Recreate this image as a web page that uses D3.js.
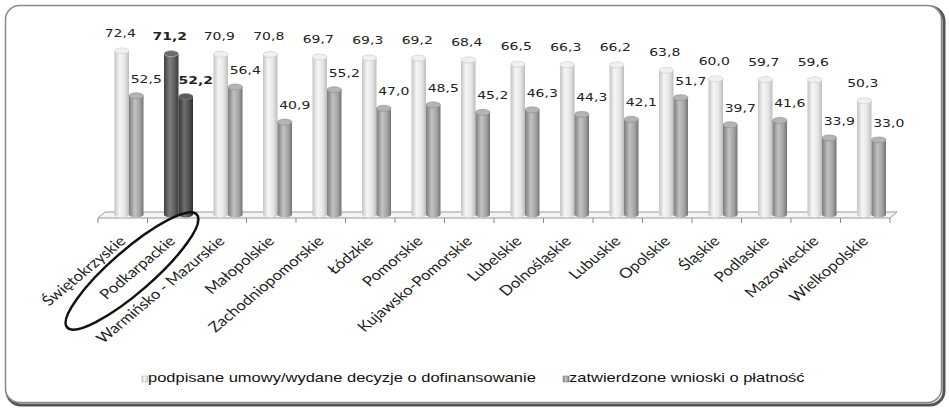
<!DOCTYPE html>
<html>
<head>
<meta charset="utf-8">
<script src="https://cdn.jsdelivr.net/npm/d3@7"></script>
<style>
  body { margin: 0; background: #fff; }
  svg { display: block; }
</style>
</head>
<body>
<script>
// regions and the two series (percent)
var regions = ["Świętokrzyskie", "Podkarpackie", "Warmińsko - Mazurskie", "Małopolskie",
  "Zachodniopomorskie", "Łódzkie", "Pomorskie", "Kujawsko-Pomorskie", "Lubelskie",
  "Dolnośląskie", "Lubuskie", "Opolskie", "Śląskie", "Podlaskie", "Mazowieckie", "Wielkopolskie"];
var podpisane = [72.4, 71.2, 70.9, 70.8, 69.7, 69.3, 69.2, 68.4, 66.5, 66.3, 66.2, 63.8, 60.0, 59.7, 59.6, 50.3];
var zatwierdzone = [52.5, 52.2, 56.4, 40.9, 55.2, 47.0, 48.5, 45.2, 46.3, 44.3, 42.1, 51.7, 39.7, 41.6, 33.9, 33.0];
var seriesNames = ["podpisane umowy/wydane decyzje o dofinansowanie", "zatwierdzone wnioski o płatność"];
var highlighted = "Podkarpackie";

var W = 949, H = 409;
var stretch = 1.27; // the source picture is wider than its fonts

var svg = d3.select("body").append("svg").attr("width", W).attr("height", H);
var defs = svg.append("defs");

function grad(id, stops) {
  var g = defs.append("linearGradient").attr("id", id)
    .attr("x1", 0).attr("x2", 1).attr("y1", 0).attr("y2", 0);
  stops.forEach(function (s) {
    g.append("stop").attr("offset", s[0]).attr("stop-color", s[1]);
  });
}
grad("gLight", [[0, "#c4c4c4"], [0.35, "#f6f6f6"], [0.7, "#e6e6e6"], [1, "#bdbdbd"]]);
grad("gGray", [[0, "#7c7c7c"], [0.4, "#c2c2c2"], [0.75, "#a2a2a2"], [1, "#737373"]]);
grad("gDark1", [[0, "#3e3e3e"], [0.4, "#7e7e7e"], [0.75, "#5c5c5c"], [1, "#3a3a3a"]]);
grad("gDark2", [[0, "#333"], [0.4, "#6e6e6e"], [0.75, "#4e4e4e"], [1, "#2e2e2e"]]);

// frame with a shadow on the bottom right
svg.append("rect").attr("x", 7).attr("y", 7).attr("width", 937).attr("height", 398)
  .attr("rx", 14).attr("fill", "none").attr("stroke", "#555").attr("stroke-width", 3);
svg.append("rect").attr("x", 5.5).attr("y", 5.5).attr("width", 936).attr("height", 397)
  .attr("rx", 14).attr("fill", "#fff").attr("stroke", "#8a8a8a").attr("stroke-width", 1.5);

var x0 = d3.scaleBand().domain(regions).range([98, 890]);
var y = d3.scaleLinear().domain([0, 80]).range([214.5, 33.7]);

var depth = 7, floorFront = 218, floorBack = 212;

// floor
svg.append("polygon")
  .attr("points", [[98, floorFront], [890, floorFront], [890 + depth, floorBack], [98 + depth, floorBack]].join(" "))
  .attr("fill", "#f4f4f4").attr("stroke", "#9a9a9a").attr("stroke-width", 1);

// tick marks on the category axis
var tickPos = regions.map(function (r) { return x0(r); }).concat([x0.range()[1]]);
svg.append("g").selectAll("line").data(tickPos).enter().append("line")
  .attr("x1", function (d) { return d; }).attr("x2", function (d) { return d; })
  .attr("y1", floorFront).attr("y2", floorFront + 5)
  .attr("stroke", "#8a8a8a").attr("stroke-width", 1);

var x1 = d3.scaleBand().domain([0, 1]).range([16.5, 45.5]);

var bars = [];
regions.forEach(function (r, i) {
  bars.push({ region: r, s: 0, v: podpisane[i] });
  bars.push({ region: r, s: 1, v: zatwierdzone[i] });
});

function fillFor(d) {
  if (d.region === highlighted) return d.s === 0 ? "url(#gDark1)" : "url(#gDark2)";
  return d.s === 0 ? "url(#gLight)" : "url(#gGray)";
}
function capFor(d) {
  if (d.region === highlighted) return d.s === 0 ? "#6a6a6a" : "#5a5a5a";
  return d.s === 0 ? "#f0f0f0" : "#b4b4b4";
}

var bw = x1.bandwidth(), ry = 3;
var cyl = svg.append("g").selectAll("g").data(bars).enter().append("g")
  .attr("transform", function (d) { return "translate(" + (x0(d.region) + x1(d.s)) + ",0)"; });

cyl.append("ellipse")
  .attr("cx", bw / 2).attr("cy", y(0)).attr("rx", bw / 2).attr("ry", ry)
  .attr("fill", fillFor);
cyl.append("rect")
  .attr("x", 0).attr("width", bw)
  .attr("y", function (d) { return y(d.v); })
  .attr("height", function (d) { return y(0) - y(d.v); })
  .attr("fill", fillFor);
cyl.append("ellipse")
  .attr("cx", bw / 2).attr("cy", function (d) { return y(d.v); })
  .attr("rx", bw / 2).attr("ry", ry)
  .attr("fill", capFor)
  .attr("stroke", function (d) { return d.s === 0 ? "#c8c8c8" : "#8c8c8c"; })
  .attr("stroke-width", 0.6);

// value labels
var fmt = function (v) { return d3.format(".1f")(v).replace(".", ","); };
svg.append("g").selectAll("text").data(bars).enter().append("text")
  .attr("transform", function (d) {
    var cx = x0(d.region) + x1(d.s) + bw / 2 + (d.s === 0 ? -1.5 : 10);
    var by = y(d.v) - (d.s === 0 ? 14 : 13);
    return "translate(" + cx + "," + by + ") scale(" + stretch + ",1)";
  })
  .attr("text-anchor", "middle")
  .attr("font-family", "DejaVu Sans")
  .attr("font-size", 11)
  .attr("font-weight", function (d) { return d.region === highlighted ? "bold" : "normal"; })
  .attr("fill", "#222")
  .text(function (d) { return fmt(d.v); });

// category labels
svg.append("g").selectAll("text").data(regions).enter().append("text")
  .attr("transform", function (d) {
    return "translate(" + (x0(d) + x0.bandwidth() / 2 + 4) + ",242) scale(1.2,1) rotate(-45)";
  })
  .attr("text-anchor", "end")
  .attr("font-family", "Lato")
  .attr("font-size", 14)
  .attr("fill", "#222")
  .text(function (d) { return d; });

// hand drawn ellipse around Podkarpackie
svg.append("ellipse")
  .attr("transform", "translate(132,271) rotate(-41)")
  .attr("rx", 86).attr("ry", 21)
  .attr("fill", "none").attr("stroke", "#111").attr("stroke-width", 2.5);

// legend
var legendX = [142, 563];
var leg = svg.append("g").selectAll("g").data(seriesNames).enter().append("g")
  .attr("transform", function (d, i) { return "translate(" + legendX[i] + ",376)"; });
leg.append("rect").attr("width", 6).attr("height", 6)
  .attr("fill", function (d, i) { return i === 0 ? "url(#gLight)" : "url(#gGray)"; })
  .attr("stroke", function (d, i) { return i === 0 ? "#bbb" : "#888"; }).attr("stroke-width", 0.6);
leg.append("text")
  .attr("transform", "translate(6,5.5) scale(" + stretch + ",1)")
  .attr("font-family", "Liberation Sans")
  .attr("font-size", 13)
  .attr("fill", "#111")
  .text(function (d) { return d; });
</script>
</body>
</html>
